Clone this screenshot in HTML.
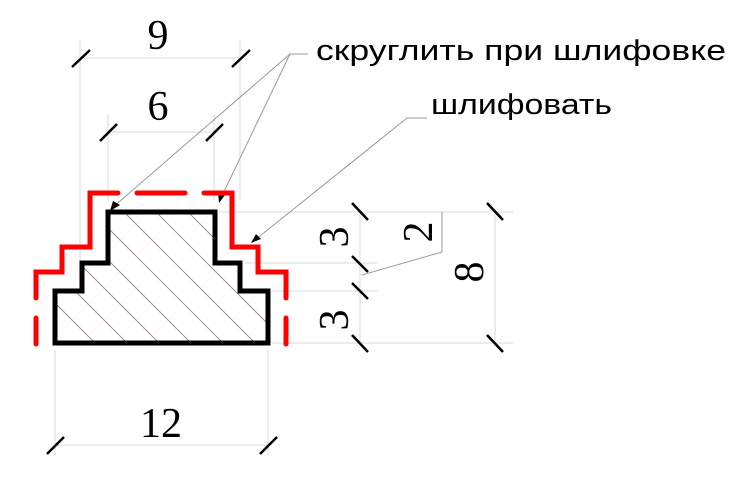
<!DOCTYPE html>
<html><head><meta charset="utf-8"><style>html,body{margin:0;padding:0;background:#fff}svg{display:block}</style></head>
<body>
<svg width="745" height="497" viewBox="0 0 745 497" xmlns="http://www.w3.org/2000/svg">
<defs>
<clipPath id="shape"><polygon points="55,343 55,291 82,291 82,263 108,263 108,212 215,212 215,263 240,263 240,291 268,291 268,343"/></clipPath>
</defs>
<g stroke="#d8d8d8" stroke-width="1" fill="none">
<line x1="80" y1="40" x2="80" y2="275"/><line x1="240" y1="40" x2="240" y2="200"/>
<line x1="80" y1="58" x2="240" y2="58"/>
<line x1="108" y1="115" x2="108" y2="200"/><line x1="214" y1="115" x2="214" y2="200"/>
<line x1="108" y1="132" x2="214" y2="132"/>
<line x1="55" y1="350" x2="55" y2="455"/><line x1="268" y1="350" x2="268" y2="455"/>
<line x1="55" y1="445" x2="268" y2="445"/>
<line x1="220" y1="212" x2="513" y2="212"/>
<line x1="245" y1="263" x2="377" y2="263"/><line x1="272" y1="291" x2="377" y2="291"/>
<line x1="272" y1="343" x2="513" y2="343"/>
<line x1="360" y1="212" x2="360" y2="343"/><line x1="495" y1="212" x2="495" y2="343"/>
</g>
<g stroke="#999" stroke-width="1" fill="none">
<line x1="290" y1="54" x2="308" y2="54"/>
<line x1="290" y1="54" x2="112" y2="208"/>
<line x1="290" y1="54" x2="220" y2="200"/>
<line x1="407" y1="118" x2="427" y2="118"/>
<line x1="407" y1="118" x2="255" y2="240"/>
<polyline points="362,275 442,252 442,212"/>
</g>
<g fill="#000">
<polygon points="110,211 113,201 120,205"/>
<polygon points="219,203 218,192 225,195"/>
<polygon points="251,243 256,234 261,239"/>
</g>
<g clip-path="url(#shape)" stroke="#a07070" stroke-width="0.8">
<line x1="40" y1="160" x2="240" y2="360"/><line x1="72" y1="160" x2="272" y2="360"/><line x1="104" y1="160" x2="304" y2="360"/><line x1="136" y1="160" x2="336" y2="360"/><line x1="168" y1="160" x2="368" y2="360"/><line x1="8" y1="160" x2="208" y2="360"/><line x1="-24" y1="160" x2="176" y2="360"/><line x1="-56" y1="160" x2="144" y2="360"/><line x1="-88" y1="160" x2="112" y2="360"/>
</g>
<polygon points="55,343 55,291 82,291 82,263 108,263 108,212 215,212 215,263 240,263 240,291 268,291 268,343" fill="none" stroke="#000" stroke-width="5" stroke-linejoin="miter"/>
<g stroke="#f00" stroke-width="5" fill="none" stroke-linecap="round">
<polyline points="36,298 36,272 62,272 62,247 90,247 90,193 118,193"/>
<line x1="137" y1="193" x2="185" y2="193"/>
<polyline points="204,193 232,193 232,247 258,247 258,272 286,272 286,298"/>
<line x1="36" y1="318" x2="36" y2="344"/>
<line x1="286" y1="318" x2="286" y2="344"/>
</g>
<g stroke="#000" stroke-width="2.5">
<line x1="72" y1="67" x2="90" y2="50"/><line x1="232" y1="67" x2="250" y2="50"/>
<line x1="100" y1="141" x2="117" y2="124"/><line x1="206" y1="141" x2="223" y2="124"/>
<line x1="47" y1="454" x2="64" y2="437"/><line x1="260" y1="454" x2="277" y2="437"/>
<line x1="352" y1="203" x2="368" y2="220"/><line x1="352" y1="256" x2="368" y2="272"/>
<line x1="352" y1="283" x2="368" y2="299"/><line x1="352" y1="335" x2="368" y2="352"/>
<line x1="487" y1="203" x2="503" y2="220"/><line x1="487" y1="335" x2="503" y2="352"/>
</g>
<g font-family="'Liberation Serif', serif" font-size="42" fill="#000" text-anchor="middle">
<text x="158" y="49">9</text>
<text x="158" y="120">6</text>
<text x="161" y="437">12</text>
<text transform="translate(348,237) rotate(-90)">3</text>
<text transform="translate(348,320) rotate(-90)">3</text>
<text transform="translate(432,232) rotate(-90)">2</text>
<text transform="translate(483,272) rotate(-90)">8</text>
</g>
<g font-family="'Liberation Sans', 'DejaVu Sans', sans-serif" font-size="29" fill="#000">
<text x="316" y="60" textLength="410" lengthAdjust="spacingAndGlyphs">скруглить при шлифовке</text>
<text x="431" y="114" textLength="181" lengthAdjust="spacingAndGlyphs">шлифовать</text>
</g>
</svg>
</body></html>
